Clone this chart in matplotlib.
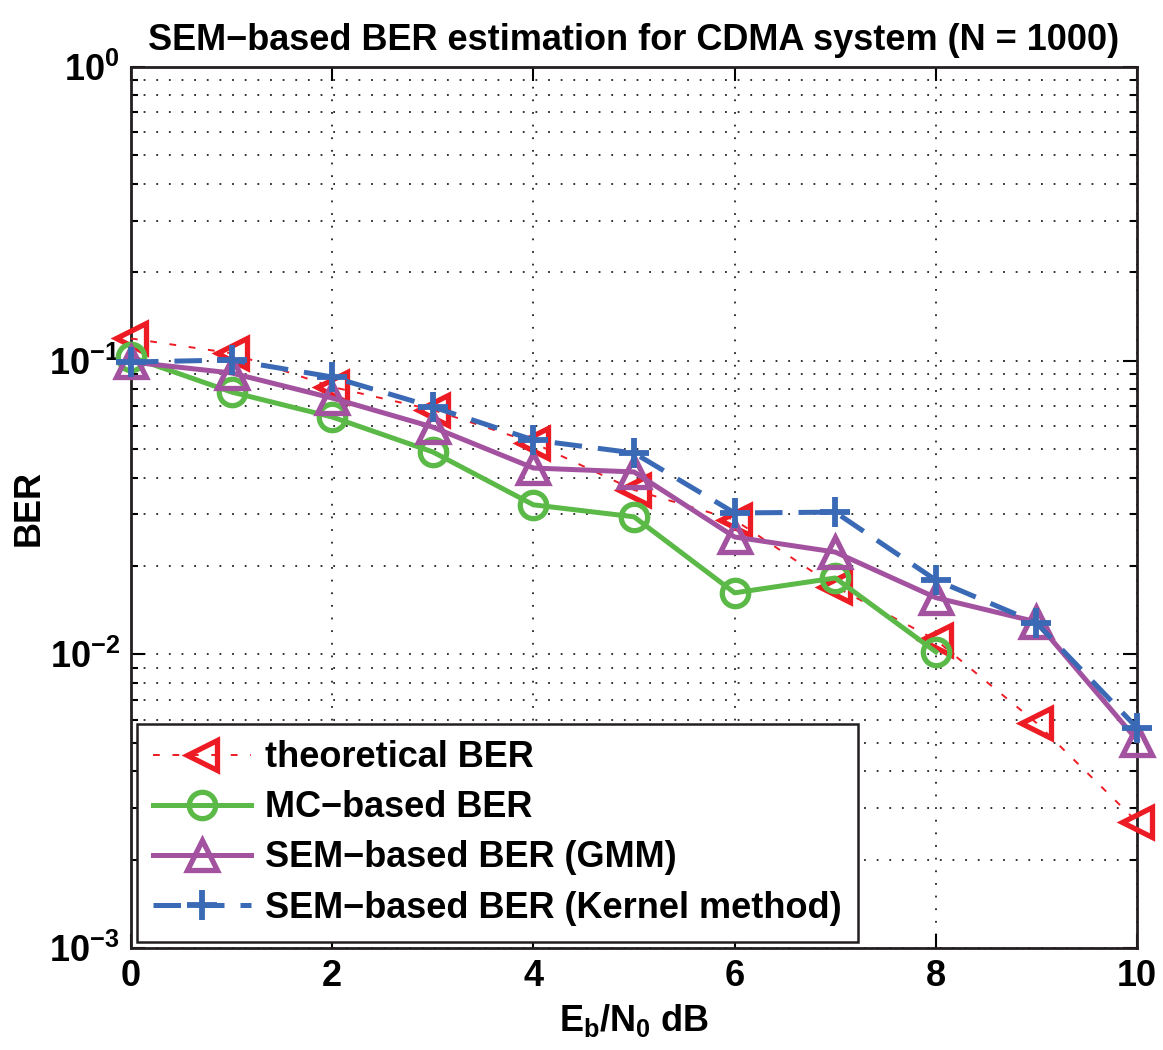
import numpy as np
import matplotlib
matplotlib.use("Agg")
import matplotlib.pyplot as plt
from matplotlib.ticker import LogLocator, NullFormatter, FixedLocator

plt.rcParams["font.family"] = ["Liberation Sans", "DejaVu Sans"]
plt.rcParams["font.weight"] = "bold"
plt.rcParams["mathtext.fontset"] = "custom"
plt.rcParams["mathtext.rm"] = "Liberation Sans:bold"
plt.rcParams["mathtext.bf"] = "Liberation Sans:bold"
plt.rcParams["mathtext.it"] = "Liberation Sans:bold"

# Eb/N0 in dB
snr_db = [0, 1, 2, 3, 4, 5, 6, 7, 8, 9, 10]
snr_db_mc = [0, 1, 2, 3, 4, 5, 6, 7, 8]

ber_theory = [0.119, 0.106, 0.0814, 0.068, 0.0525, 0.0363, 0.0287, 0.017,
              0.0112, 0.00584, 0.00269]
ber_mc = [0.103, 0.0782, 0.0643, 0.0489, 0.0323, 0.0294, 0.0162, 0.0182, 0.0102]
ber_gmm = [0.099, 0.0908, 0.0746, 0.0594, 0.0431, 0.0418, 0.0251, 0.0223,
           0.0156, 0.0129, 0.00511]
ber_kernel = [0.099, 0.1005, 0.088, 0.0696, 0.0537, 0.0485, 0.0303, 0.0305,
              0.0179, 0.0128, 0.00562]

labels = ["theoretical BER", "MC\u2212based BER", "SEM\u2212based BER (GMM)",
          "SEM\u2212based BER (Kernel method)"]

RED = "#ED1C24"
GREEN = "#5BB947"
PURPLE = "#A352A0"
BLUE = "#3A6AB5"

fig = plt.figure(figsize=(11.63, 10.5), dpi=100)
ax = fig.add_axes([0.1126, 0.0971, 0.9777 - 0.1126, 0.9362 - 0.0971])

ax.semilogy(snr_db, ber_theory, color=RED, linestyle=(0, (3.5, 6.5)), linewidth=1.4,
            marker="<", markersize=21, markerfacecolor="none",
            markeredgewidth=3.8, label=labels[0], clip_on=False, zorder=3)
ax.semilogy(snr_db_mc, ber_mc, color=GREEN, linestyle="-", linewidth=3.6,
            marker="o", markersize=19, markerfacecolor="none",
            markeredgewidth=3.8, label=labels[1], clip_on=False, zorder=3)
ax.semilogy(snr_db, ber_gmm, color=PURPLE, linestyle="-", linewidth=3.6,
            marker="^", markersize=21, markerfacecolor="none",
            markeredgewidth=3.8, label=labels[2], clip_on=False, zorder=3)
ax.semilogy(snr_db, ber_kernel, color=BLUE, linestyle=(0, (5.5, 3.2)), linewidth=3.6,
            marker="+", markersize=22, markeredgewidth=4.2, label=labels[3],
            clip_on=False, zorder=3)

ax.set_xlim(0, 10)
ax.set_ylim(1e-3, 1)
ax.xaxis.set_major_locator(FixedLocator([0, 2, 4, 6, 8, 10]))
ax.set_xticklabels(["0", "2", "4", "6", "8", "10"])
ax.yaxis.set_major_locator(FixedLocator([1e-3, 1e-2, 1e-1, 1]))
ax.set_yticklabels([r"$10^{-3}$", r"$10^{-2}$", r"$10^{-1}$", r"$10^{0}$"])
ax.yaxis.set_minor_locator(LogLocator(base=10, subs=np.arange(2, 10), numticks=20))
ax.yaxis.set_minor_formatter(NullFormatter())

ax.tick_params(which="both", direction="in", top=True, right=True,
               labelsize=26, width=1.5)
ax.tick_params(which="major", length=10, pad=8)
ax.tick_params(which="minor", length=5)

ax.grid(True, which="major", axis="x", color="#222222", linestyle=(0, (1, 6)),
        linewidth=1.3)
ax.grid(True, which="both", axis="y", color="#222222", linestyle=(0, (1, 6)),
        linewidth=1.3)

for s in ax.spines.values():
    s.set_linewidth(2)
    s.set_color("#231F20")

ax.set_title("SEM\u2212based BER estimation for CDMA system (N = 1000)",
             fontsize=26, fontweight="bold", pad=12)
ax.set_xlabel(r"$E_b/N_0$ dB", fontsize=26, fontweight="bold", labelpad=6)
ax.set_ylabel("BER", fontsize=26, fontweight="bold", labelpad=2)

leg = ax.legend(loc="lower left", fontsize=26, handlelength=2.7,
                borderaxespad=0.17, fancybox=False, framealpha=1,
                edgecolor="#231F20", borderpad=0.45, labelspacing=0.42,
                handletextpad=0.4)
leg.get_frame().set_linewidth(1.8)
leg.set_zorder(5)

fig.savefig("out.png", dpi=100)
